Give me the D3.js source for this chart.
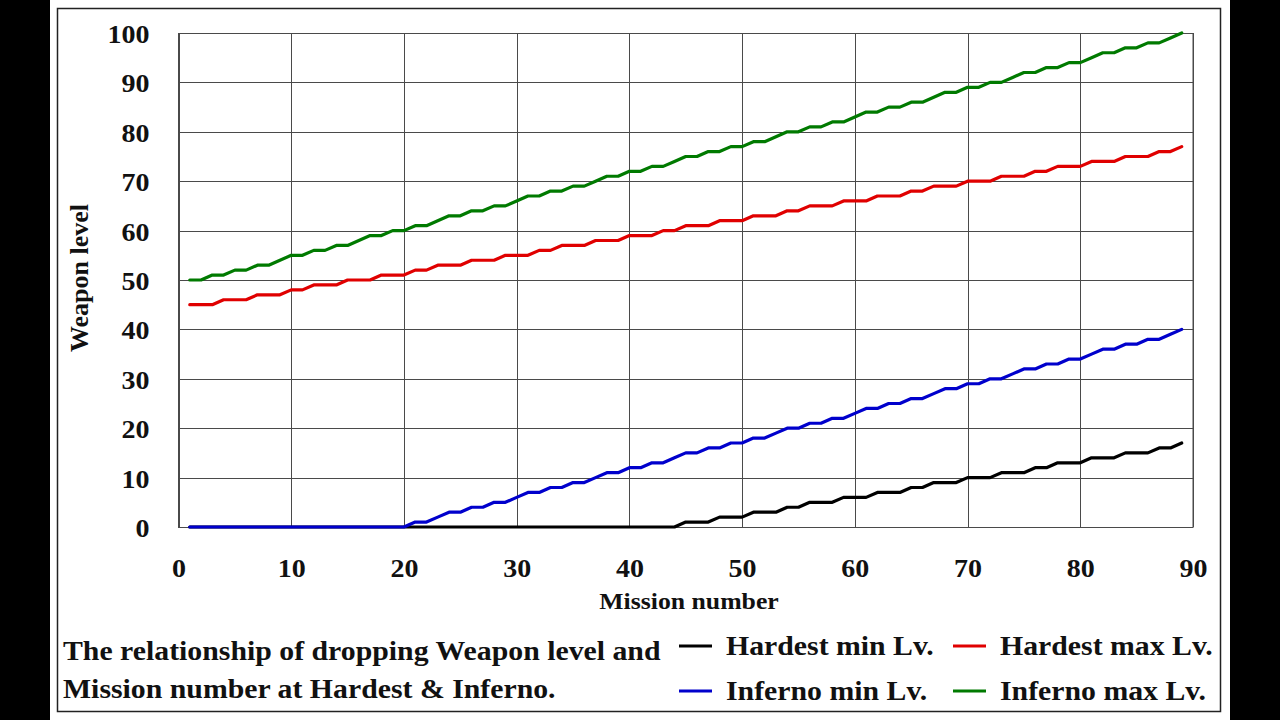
<!DOCTYPE html>
<html>
<head>
<meta charset="utf-8">
<script src="https://cdn.jsdelivr.net/npm/d3@7"></script>
<style>
  html, body { margin: 0; padding: 0; background: #000; }
  svg { display: block; }
  text { font-family: "Liberation Serif", "Times New Roman", serif; font-weight: bold; fill: #111; }
</style>
</head>
<body>
<svg id="chart" width="1280" height="720"></svg>
<script>
// ---------------- data ----------------
const missions = d3.range(1, 90);
const hardestMin = [0,0,0,0,0,0,0,0,0,0, 0,0,0,0,0,0,0,0,0,0, 0,0,0,0,0,0,0,0,0,0, 0,0,0,0,0,0,0,0,0,0, 0,0,0,0,
  1,1,1, 2,2,2, 3,3,3, 4,4, 5,5,5, 6,6,6, 7,7,7, 8,8, 9,9,9, 10,10,10, 11,11,11, 12,12, 13,13,13, 14,14,14, 15,15,15, 16,16, 17];
const hardestMax = [45,45,45, 46,46,46, 47,47,47, 48,48, 49,49,49, 50,50,50, 51,51,51, 52,52, 53,53,53, 54,54,54, 55,55,55, 56,56,
  57,57,57, 58,58,58, 59,59,59, 60,60, 61,61,61, 62,62,62, 63,63,63, 64,64, 65,65,65, 66,66,66, 67,67,67, 68,68,
  69,69,69, 70,70,70, 71,71,71, 72,72, 73,73,73, 74,74,74, 75,75,75, 76,76, 77];
const infernoMin = [0,0,0,0,0,0,0,0,0,0, 0,0,0,0,0,0,0,0,0,0,
  1,1,2,3,3,4,4,5,5,6,7,7,8,8,9,9,10,11,11,12,12,13,13,14,15,15,16,16,17,17,18,18,19,20,20,21,21,22,22,
  23,24,24,25,25,26,26,27,28,28,29,29,30,30,31,32,32,33,33,34,34,35,36,36,37,37,38,38,39,40];
const infernoMax = [50,50,51,51,52,52,53,53,54,55,55,56,56,57,57,58,59,59,60,60,
  61,61,62,63,63,64,64,65,65,66,67,67,68,68,69,69,70,71,71,72,72,73,73,74,75,75,76,76,77,77,78,78,79,80,80,81,81,82,82,
  83,84,84,85,85,86,86,87,88,88,89,89,90,90,91,92,92,93,93,94,94,95,96,96,97,97,98,98,99,100];
const xTicks = [0,10,20,30,40,50,60,70,80,90];
const yTicks = [0,10,20,30,40,50,60,70,80,90,100];
const seriesNames = ["Hardest min Lv.", "Hardest max Lv.", "Inferno min Lv.", "Inferno max Lv."];
const seriesColors = ["#000000", "#e00000", "#0000cc", "#007a00"];
const seriesValues = [hardestMin, hardestMax, infernoMin, infernoMax];
const captionLines = ["The relationship of dropping Weapon level and", "Mission number at Hardest & Inferno."];

// ---------------- layout ----------------
const svg = d3.select("#chart");
const SX = 1.12; // horizontal stretch of text, as in the reference

// white page with frame
svg.append("rect").attr("x", 50).attr("y", 0).attr("width", 1180).attr("height", 720).attr("fill", "#fff");
svg.append("rect").attr("x", 57.5).attr("y", 8.5).attr("width", 1163).attr("height", 703)
  .attr("fill", "none").attr("stroke", "#222").attr("stroke-width", 1.5);

const plot = { left: 178.5, top: 33, right: 1193, bottom: 527 };
const x = d3.scaleLinear().domain([0, 90]).range([plot.left, plot.right]);
const y = d3.scaleLinear().domain([0, 100]).range([plot.bottom, plot.top]);

// grid
const g = svg.append("g");
g.append("g").selectAll("line").data(yTicks).join("line")
  .attr("x1", plot.left).attr("x2", plot.right)
  .attr("y1", d => Math.round(y(d)) + 0.5).attr("y2", d => Math.round(y(d)) + 0.5)
  .attr("stroke", "#4a4a4a").attr("stroke-width", 1);
g.append("g").selectAll("line").data(xTicks).join("line")
  .attr("y1", plot.top).attr("y2", plot.bottom)
  .attr("x1", d => Math.round(x(d)) + 0.5).attr("x2", d => Math.round(x(d)) + 0.5)
  .attr("stroke", "#4a4a4a").attr("stroke-width", 1);

// axes (labels only)
const yAxis = svg.append("g").attr("transform", `translate(${plot.left},0)`)
  .call(d3.axisLeft(y).tickValues(yTicks).tickSize(0).tickPadding(0));
yAxis.select(".domain").remove();
yAxis.selectAll("text")
  .attr("x", 0).attr("dy", null).attr("y", 0)
  .attr("text-anchor", "end")
  .attr("dominant-baseline", "central")
  .style("font-size", "25px")
  .attr("transform", `translate(-29,1) scale(${SX},1)`);

const xAxis = svg.append("g").attr("transform", `translate(0,${plot.bottom})`)
  .call(d3.axisBottom(x).tickValues(xTicks).tickSize(0).tickPadding(0));
xAxis.select(".domain").remove();
xAxis.selectAll("text")
  .attr("y", 0).attr("dy", null)
  .attr("text-anchor", "middle")
  .style("font-size", "25px")
  .attr("transform", `translate(0,50) scale(${SX},1)`);

function label(parent, tx, ty, str, size, anchor, sx) {
  const gg = parent.append("g").attr("transform", `translate(${tx},${ty}) scale(${sx},1)`);
  gg.append("text").attr("x", 0).attr("y", 0).attr("text-anchor", anchor)
    .style("font-size", size + "px").text(str);
  return gg;
}

// axis titles
label(svg, 689, 609, "Mission number", 23, "middle", SX);
svg.append("text").attr("transform", "translate(88,278) rotate(-90)")
  .attr("text-anchor", "middle").style("font-size", "26px").text("Weapon level");

// plot border
svg.append("rect").attr("x", plot.left).attr("y", plot.top + 0.5)
  .attr("width", plot.right - plot.left).attr("height", plot.bottom - plot.top)
  .attr("fill", "none").attr("stroke", "#4a4a4a").attr("stroke-width", 1);

// lines
const line = d3.line().x((d, i) => x(missions[i])).y(d => y(d));
const order = [0, 2, 1, 3];
svg.append("g").selectAll("path").data(order).join("path")
  .attr("d", k => line(seriesValues[k]))
  .attr("fill", "none")
  .attr("stroke", k => seriesColors[k])
  .attr("stroke-width", 3.2)
  .attr("stroke-linejoin", "round")
  .attr("stroke-linecap", "round");

// caption
label(svg, 63, 660, captionLines[0], 26.6, "start", SX);
label(svg, 63, 698, captionLines[1], 26.6, "start", SX);

// legend
const legendPos = [
  { lx: 679, ly: 646, tx: 726, ty: 655 },
  { lx: 953, ly: 646, tx: 1000, ty: 655 },
  { lx: 679, ly: 691, tx: 726, ty: 700 },
  { lx: 953, ly: 691, tx: 1000, ty: 700 }
];
seriesNames.forEach((name, k) => {
  const p = legendPos[k];
  svg.append("line").attr("x1", p.lx).attr("x2", p.lx + 33).attr("y1", p.ly).attr("y2", p.ly)
    .attr("stroke", seriesColors[k]).attr("stroke-width", 3.2);
  label(svg, p.tx, p.ty, name, 26.6, "start", SX);
});
</script>
</body>
</html>
